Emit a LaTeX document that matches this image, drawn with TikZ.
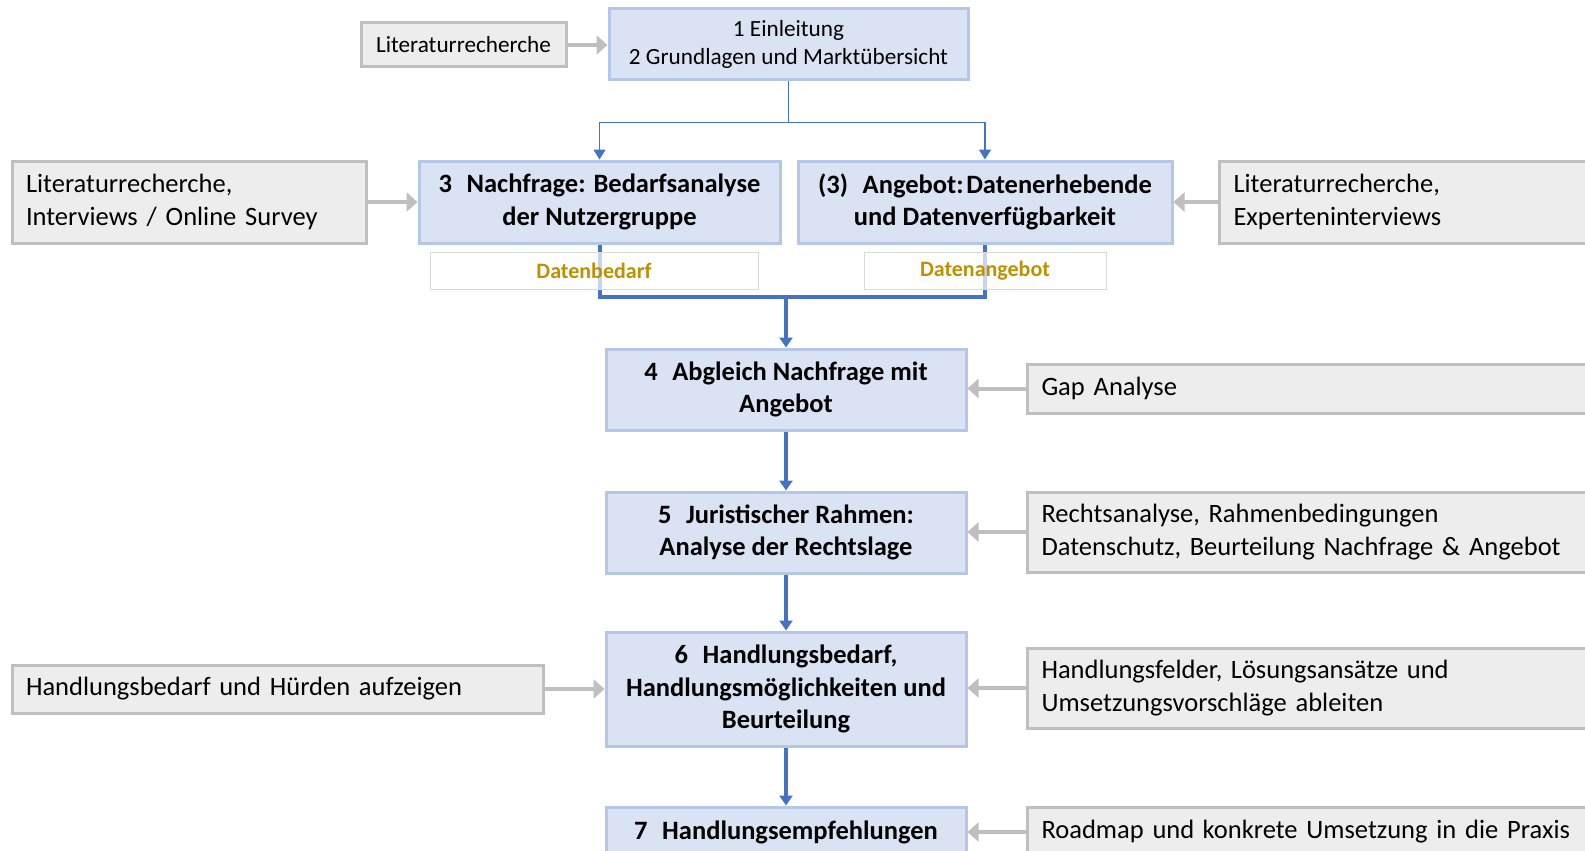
\documentclass[tikz,border=0pt]{standalone}
\usepackage{fontspec}
\setmainfont{Carlito}
\usetikzlibrary{arrows.meta}
\definecolor{boxblue}{HTML}{DAE3F3}
\definecolor{boxedge}{HTML}{B4C7E7}
\definecolor{sidegray}{HTML}{EDEDED}
\definecolor{sideedge}{HTML}{BFBFBF}
\definecolor{linkblue}{HTML}{4472C4}
\definecolor{gold}{HTML}{BF9000}
\begin{document}
\begin{tikzpicture}[x=1pt,y=-1pt]
    \tikzstyle{mbox}=[draw=boxedge, line width=3pt, fill=boxblue, align=center, inner sep=0pt, font=\bfseries\fontsize{26.5}{32.4}\selectfont]
    \tikzstyle{sbox}=[draw=sideedge, line width=3pt, fill=sidegray, align=left, inner xsep=14pt, inner ysep=0pt, font=\fontsize{26.5}{32.4}\selectfont]
    \tikzstyle{tagbox}=[draw=black!15, line width=0.8pt, fill=white, fill opacity=0.7, text opacity=1, text=gold, inner sep=0pt, minimum height=37pt, font=\bfseries\fontsize{22}{26}\selectfont]
    \tikzstyle{garr}=[draw=sideedge, line width=4pt, -{Triangle[width=19pt,length=11pt]}]
    \tikzstyle{thin}=[draw=linkblue, line width=1.5pt, -{Triangle[width=12pt,length=10pt]}]
    \tikzstyle{thick}=[draw=linkblue, line width=4pt, -{Triangle[width=13pt,length=10pt]}]
    \def\mw{360pt}
    \def\dsp{\hspace{0.32em}}
    \def\nsp{\hspace{0.55em}}

    \useasboundingbox (0,0) rectangle (1585,851);

    % main column
    \node[mbox, minimum width=359pt, minimum height=71pt, font=\fontsize{23.2}{28.3}\selectfont] (intro) at (788.5,44.5) {1 Einleitung\\2 Grundlagen und Marktübersicht};
    \node[mbox, minimum width=361pt, minimum height=82pt] (demand) at (599.5,202) {3\nsp Nachfrage: Bedarfsanalyse\\der Nutzergruppe};
    \node[mbox, minimum width=374pt, minimum height=82pt] (supply) at (985,202) {(3)\nsp Angebot:\hspace{0.1em}Datenerhebende\\und Datenverfügbarkeit};
    \node[mbox, minimum width=\mw, minimum height=81pt] (match) at (786,389.5) {4\nsp Abgleich Nachfrage mit\\Angebot};
    \node[mbox, minimum width=\mw, minimum height=81pt] (legal) at (786,532.5) {5\nsp Juristischer Rahmen:\\Analyse der Rechtslage};
    \node[mbox, minimum width=\mw, minimum height=114pt] (action) at (786,689) {6\nsp Handlungsbedarf,\\Handlungsmöglichkeiten und\\Beurteilung};
    \node[mbox, minimum width=\mw, minimum height=50pt] (recom) at (786,832) {7\nsp Handlungsempfehlungen};

    % methods
    \node[sbox, align=center, inner xsep=0pt, minimum width=205pt, minimum height=44pt, font=\fontsize{23.2}{28.3}\selectfont] (lit) at (463.5,45) {Literaturrecherche};
    \node[sbox, text width=326pt, minimum height=82pt] (litleft) at (189,202) {Literaturrecherche,\\Interviews / Online Survey};
    \node[sbox, text width=390pt, minimum height=82pt, anchor=west] (litright) at (1218,202) {Literaturrecherche,\\Experteninterviews};
    \node[sbox, text width=570pt, minimum height=49pt, anchor=west] (gap) at (1026,388.5) {Gap Analyse};
    \node[sbox, text width=570pt, minimum height=80pt, anchor=west] (law) at (1026,532) {Rechtsanalyse,\dsp Rahmenbedingungen\\Datenschutz,\dsp Beurteilung Nachfrage \& Angebot};
    \node[sbox, text width=503pt, minimum height=48pt] (hurdle) at (277.5,689) {Handlungsbedarf\dsp und Hürden aufzeigen};
    \node[sbox, text width=570pt, minimum height=80pt, anchor=west] (fields) at (1026,688) {Handlungsfelder,\dsp Lösungsansätze\dsp und\\Umsetzungsvorschläge ableiten};
    \node[sbox, text width=570pt, minimum height=50pt, anchor=west] (roadmap) at (1026,832) {Roadmap und\dsp konkrete Umsetzung in die Praxis};

    % split and merge
    \draw[thin] (intro.south) -- ++(0,41) -| (demand.north);
    \draw[thin] (intro.south) -- ++(0,41) -| (supply.north);
    \draw[draw=linkblue, line width=4pt] (demand.south) -- ++(0,52) -| (supply.south);
    \coordinate (merge) at (786,295);
    \draw[thick] (merge) -- (match.north);

    \node[tagbox, minimum width=328pt] (need) at (594,270.5) {Datenbedarf};
    \node[tagbox, minimum width=242pt] (offer) at (985,270.5) {Datenangebot};

    \draw[thick] (match) -- (legal);
    \draw[thick] (legal) -- (action);
    \draw[thick] (action) -- (recom);

    \draw[garr] (lit.east) -- (lit.east -| intro.west);
    \draw[garr] (litleft.east) -- (litleft.east -| demand.west);
    \draw[garr] (litright.west) -- (litright.west -| supply.east);
    \draw[garr] (gap.west) -- (gap.west -| match.east);
    \draw[garr] (law.west) -- (law.west -| legal.east);
    \draw[garr] (hurdle.east) -- (hurdle.east -| action.west);
    \draw[garr] (fields.west) -- (fields.west -| action.east);
    \draw[garr] (roadmap.west) -- (roadmap.west -| recom.east);
\end{tikzpicture}
\end{document}
